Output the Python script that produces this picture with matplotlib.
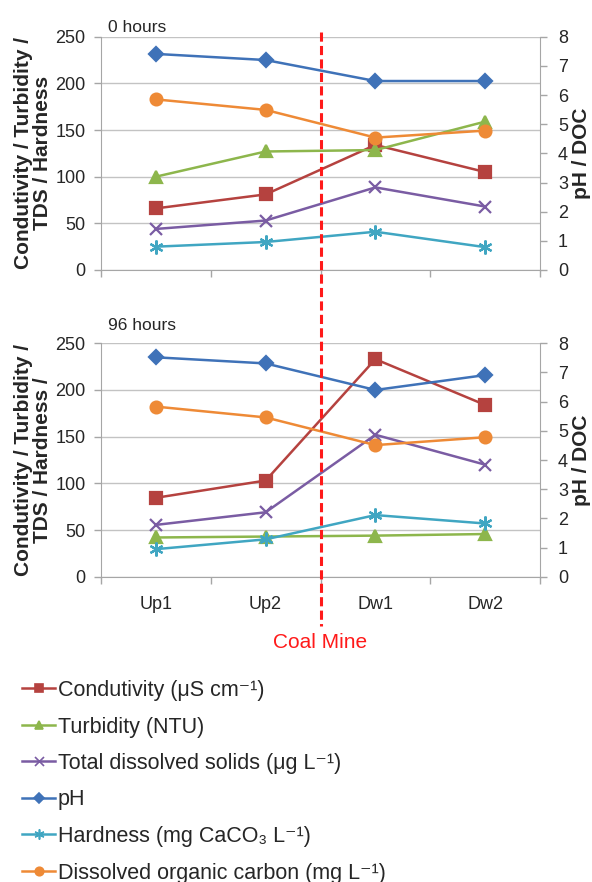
import matplotlib
matplotlib.use("Agg")
import matplotlib.pyplot as plt
from matplotlib.lines import Line2D
import numpy as np

plt.rcParams['font.family'] = ['Liberation Sans', 'DejaVu Sans']

# ---------------- data ----------------
sites = ["Up1", "Up2", "Dw1", "Dw2"]
panel_titles = ["0 hours", "96 hours"]
mine_between = ("Up2", "Dw1")
mine_label = "Coal Mine"

cond_0h = [66, 81, 134, 105]
turb_0h = [100, 127, 128.5, 159]
tds_0h = [44, 53, 88.5, 68]
hard_0h = [25, 30, 41, 24.5]
ph_0h = [7.41, 7.2, 6.48, 6.48]
doc_0h = [5.85, 5.49, 4.54, 4.78]

cond_96h = [84.5, 103, 233, 184]
turb_96h = [42, 43, 44, 45.7]
tds_96h = [55.5, 69, 152, 120]
hard_96h = [29.5, 40, 66, 57]
ph_96h = [7.52, 7.31, 6.4, 6.91]
doc_96h = [5.83, 5.46, 4.51, 4.78]

left_ticks = [0, 50, 100, 150, 200, 250]
right_ticks = [0, 1, 2, 3, 4, 5, 6, 7, 8]

left_label_top = "Condutivity / Turbidity /\nTDS / Hardness"
left_label_bot = "Condutivity / Turbidity /\nTDS / Hardness /"
right_label = "pH / DOC"

legend_labels = [
    "Condutivity (μS cm\u207b\u00b9)",
    "Turbidity (NTU)",
    "Total dissolved solids (μg L\u207b\u00b9)",
    "pH",
    "Hardness (mg CaCO\u2083 L\u207b\u00b9)",
    "Dissolved organic carbon (mg L\u207b\u00b9)",
]

# ---------------- styles ----------------
series_keys = ["cond", "turb", "tds", "ph", "hard", "doc"]
colors = {"cond": "#B5423F", "turb": "#8DB64C", "tds": "#7A5CA3",
          "ph": "#3F72B8", "hard": "#40A6C2", "doc": "#EE8A36"}
markers = {"cond": "s", "turb": "^", "tds": "x", "ph": "D",
           "hard": (6, 2, 0), "doc": "o"}
msizes = {"cond": 8, "turb": 8.5, "tds": 9, "ph": 7, "hard": 10, "doc": 8.5}
right_side = {"ph", "doc"}

panels = [
    {"cond": cond_0h, "turb": turb_0h, "tds": tds_0h, "ph": ph_0h, "hard": hard_0h, "doc": doc_0h},
    {"cond": cond_96h, "turb": turb_96h, "tds": tds_96h, "ph": ph_96h, "hard": hard_96h, "doc": doc_96h},
]

W, H = 592, 882
fig = plt.figure(figsize=(W / 100, H / 100), dpi=100)

ax_left_px, ax_right_px = 101, 540
panel_px = [(36.7, 270.0), (343.3, 576.7)]
title_y = [1.021, 1.057]
grid_col = "#C3C3C3"
axis_col = "#A6A6A6"
text_col = "#262626"

axes = []
for i, (top_px, bot_px) in enumerate(panel_px):
    ax = fig.add_axes([ax_left_px / W, 1 - bot_px / H,
                       (ax_right_px - ax_left_px) / W, (bot_px - top_px) / H])
    ax2 = ax.twinx()
    data = panels[i]
    x = np.arange(len(sites))
    for k in series_keys:
        tgt = ax2 if k in right_side else ax
        tgt.plot(x, data[k], color=colors[k], lw=1.8, marker=markers[k],
                 ms=msizes[k], mfc=colors[k], mec=colors[k], mew=1.6,
                 solid_joinstyle='round', zorder=3)
    ax.set_xlim(-0.5, len(sites) - 0.5)
    ax.set_ylim(left_ticks[0], left_ticks[-1])
    ax2.set_ylim(right_ticks[0], right_ticks[-1])
    ax.set_yticks(left_ticks)
    ax2.set_yticks(right_ticks)
    ax.yaxis.grid(True, color=grid_col, lw=1.0)
    ax.set_axisbelow(True)

    ax.set_xticks(x)
    ax.set_xticklabels(sites)
    ax.set_xticks(np.arange(-0.5, len(sites), 1.0), minor=True)
    ax.tick_params(axis='x', which='major', length=0, pad=14, labelsize=13,
                   labelcolor=text_col)
    ax.tick_params(axis='x', which='minor', length=5, color=axis_col, width=1)
    if i == 0:
        ax.tick_params(axis='x', labelbottom=False)
    ax.tick_params(axis='y', length=5, color=axis_col, width=1, pad=6,
                   labelsize=13, labelcolor=text_col)
    ax2.tick_params(axis='y', length=5, color=axis_col, width=1, pad=8,
                    labelsize=13, labelcolor=text_col)

    for s in ["top", "right"]:
        ax.spines[s].set_visible(False)
    for s in ["top", "left", "bottom"]:
        ax2.spines[s].set_visible(False)
    ax.spines["left"].set_color(axis_col)
    ax.spines["bottom"].set_color(axis_col)
    ax2.spines["right"].set_color(axis_col)

    ax.set_ylabel(left_label_top if i == 0 else left_label_bot,
                  fontsize=15, fontweight='bold', color=text_col,
                  linespacing=1.0)
    ax.yaxis.set_label_coords(-0.112, 0.5)
    ax2.set_ylabel(right_label, fontsize=15, fontweight='bold', color=text_col)
    ax2.yaxis.set_label_coords(1.074, 0.5)

    ax.text(0.016, title_y[i], panel_titles[i], transform=ax.transAxes,
            ha='left', va='baseline', fontsize=12.5, color=text_col)
    axes.append(ax)

# coal mine dashed line spanning both panels
mine_x = (sites.index(mine_between[0]) + sites.index(mine_between[1])) / 2
xdisp = axes[1].transData.transform((mine_x, 0))[0]
xfig = fig.transFigure.inverted().transform((xdisp, 0))[0]
fig.add_artist(Line2D([xfig, xfig], [1 - 32 / H, 1 - 626 / H],
                      transform=fig.transFigure, color="#FF1A1A", lw=2.2,
                      ls=(0, (3, 1.4))))
fig.text(xfig, 1 - 642 / H, mine_label, ha='center', va='center',
         fontsize=15, color="#FF1A1A")

# legend
handles = [Line2D([], [], color=colors[k], lw=1.8, marker=markers[k],
                  ms=msizes[k] * 0.72, mfc=colors[k], mec=colors[k], mew=1.2)
           for k in series_keys]
fig.legend(handles, legend_labels, loc='upper left',
           bbox_to_anchor=(22 / W, 1 - 680 / H), frameon=False, fontsize=15.5,
           handlelength=1.55, handletextpad=0.12, labelspacing=0.72,
           borderpad=0, borderaxespad=0, labelcolor=text_col)

fig.savefig("out.png", dpi=100)
